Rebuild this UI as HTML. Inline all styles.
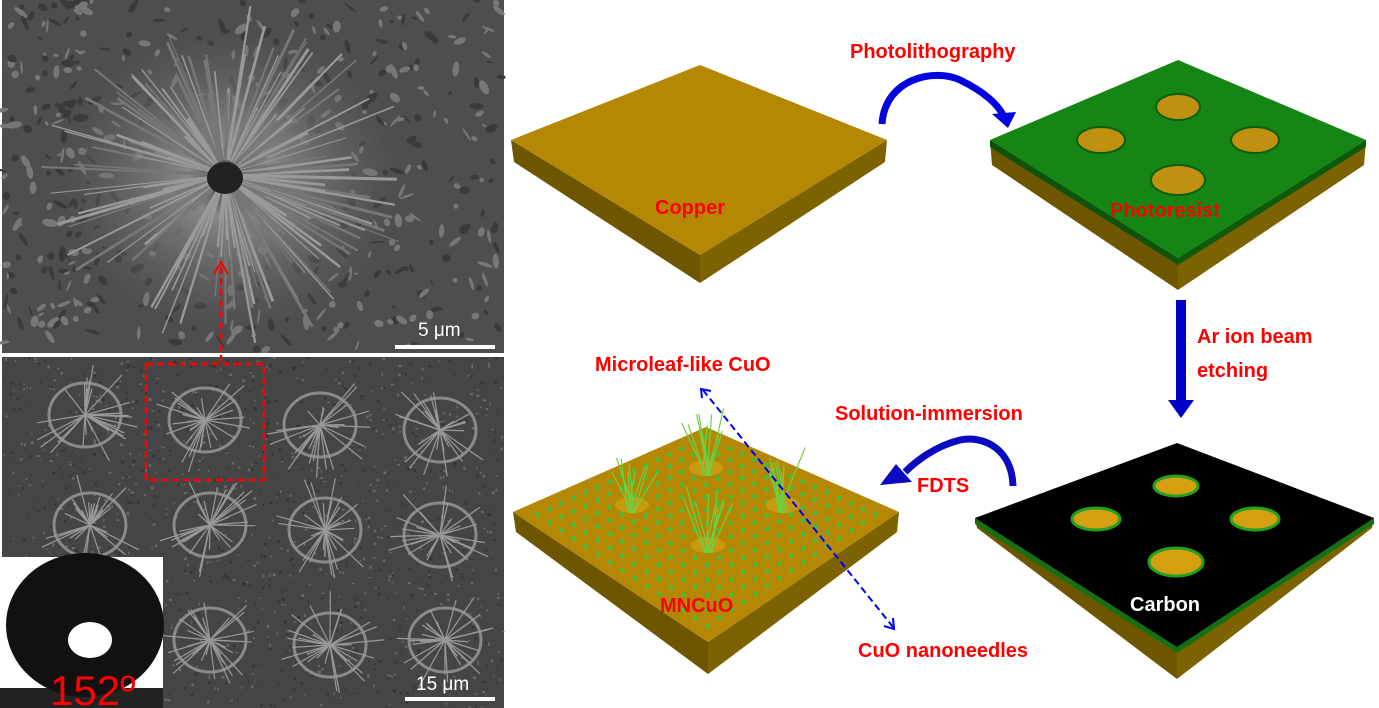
<!DOCTYPE html>
<html><head><meta charset="utf-8"><style>
html,body{margin:0;padding:0;background:#fff;width:1379px;height:708px;overflow:hidden}
svg{display:block}
.t{font-family:"Liberation Sans",sans-serif;font-weight:bold;fill:#f00;font-size:20px}
</style></head><body>
<svg id="s" width="1379" height="708" viewBox="0 0 1379 708" xmlns="http://www.w3.org/2000/svg">
<defs>
<radialGradient id="fl" cx="0.5" cy="0.5" r="0.5"><stop offset="0" stop-color="#333"/><stop offset="0.25" stop-color="#888"/><stop offset="1" stop-color="#666" stop-opacity="0"/></radialGradient>
</defs>
<rect x="2" y="0" width="502" height="353" fill="#4e4e4e"/>
<g id="top"></g>
<rect x="2" y="353" width="502" height="4" fill="#fff"/>
<rect x="2" y="357" width="502" height="351" fill="#454545"/>
<g id="bot"></g>
<rect x="395" y="345" width="100" height="4" fill="#fff"/>
<text x="418" y="336" font-family="Liberation Sans,sans-serif" font-size="19" fill="#fff">5 μm</text>
<rect x="405" y="697" width="90" height="4" fill="#fff"/>
<text x="416" y="690" font-family="Liberation Sans,sans-serif" font-size="19" fill="#fff">15 μm</text>
<rect x="146" y="364" width="118" height="116" fill="none" stroke="#f00" stroke-width="2.5" stroke-dasharray="7,4"/>
<line x1="221" y1="362" x2="221" y2="266" stroke="#f00" stroke-width="2.5" stroke-dasharray="7,4"/>
<path d="M214,274 L221,262 L228,274" fill="none" stroke="#f00" stroke-width="2"/>
<rect x="0" y="557" width="163" height="151" fill="#fff"/>
<rect x="0" y="688" width="163" height="20" fill="#222"/>
<ellipse cx="85" cy="625" rx="79" ry="72" fill="#111"/>
<ellipse cx="90" cy="640" rx="22" ry="18" fill="#fff"/>
<text x="50" y="705" font-family="Liberation Sans,sans-serif" font-size="42" fill="#f00">152º</text>

<polygon points="511,140 700,255 700,283 514,162" fill="#6e5500"/>
<polygon points="700,255 887,140 885,162 700,283" fill="#7d6200"/>
<polygon points="511,140 700,65 887,140 700,255" fill="#b48804"/>
<text class="t" x="655" y="214">Copper</text>
<polygon points="990,140 1178,258 1178,290 992,165" fill="#6e5500"/>
<polygon points="1178,258 1366,140 1364,165 1178,290" fill="#7d6200"/>
<polygon points="990,140 1178,258 1178,265 990,147" fill="#0d520d"/>
<polygon points="1178,258 1366,140 1366,147 1178,265" fill="#0d5a0d"/>
<polygon points="990,140 1178,60 1366,140 1178,258" fill="#158515"/>
<g fill="#c09010" stroke="#0b5f0b" stroke-width="2">
<ellipse cx="1178" cy="107" rx="22" ry="13"/><ellipse cx="1101" cy="140" rx="24" ry="13"/><ellipse cx="1255" cy="140" rx="24" ry="13"/><ellipse cx="1178" cy="180" rx="27" ry="15"/></g>
<text class="t" x="1110" y="217">Photoresist</text>
<polygon points="975,518 1177,647 1177,679 977,528" fill="#6e5500"/>
<polygon points="1177,647 1374,518 1372,528 1177,679" fill="#7d6200"/>
<polygon points="975,518 1177,647 1177,653 975,524" fill="#137013"/>
<polygon points="1177,647 1374,518 1374,524 1177,653" fill="#137013"/>
<polygon points="975,518 1177,443 1374,518 1177,647" fill="#000"/>
<g fill="#d4a010" stroke="#22a022" stroke-width="3">
<ellipse cx="1176" cy="486" rx="22" ry="10"/><ellipse cx="1096" cy="519" rx="24" ry="11"/><ellipse cx="1255" cy="519" rx="24" ry="11"/><ellipse cx="1176" cy="562" rx="27" ry="14"/></g>
<text x="1130" y="611" font-family="Liberation Sans,sans-serif" font-weight="bold" font-size="20" fill="#fff">Carbon</text>
<polygon points="513,512 708,642 708,674 516,532" fill="#6e5500"/>
<polygon points="708,642 899,512 897,532 708,674" fill="#7d6200"/>
<polygon points="513,512 706,427 899,512 708,642" fill="#b48804"/>
<g id="dots"></g>
<text class="t" x="660" y="612">MNCuO</text>

<path d="M882,124 C885,78 935,68 960,80 C985,92 998,105 1003,115" fill="none" stroke="#0000e0" stroke-width="7"/>
<polygon points="992,114 1016,112 1008,128" fill="#0000e0"/>
<rect x="1176" y="300" width="10" height="102" fill="#0000c8"/>
<polygon points="1168,400 1194,400 1181,418" fill="#0000c8"/>
<path d="M1013,486 C1012,450 985,435 960,440 C935,446 915,462 905,472" fill="none" stroke="#0a0ac0" stroke-width="7"/>
<polygon points="896,464 912,482 880,485" fill="#0a0ac0"/>
<line x1="703" y1="390" x2="893" y2="627" stroke="#00f" stroke-width="2" stroke-dasharray="7,4"/>
<path d="M702,398 L701,389 L711,391" fill="none" stroke="#00f" stroke-width="2"/>
<path d="M884,626 L894,629 L893,618" fill="none" stroke="#00f" stroke-width="2"/>

<text class="t" x="850" y="58">Photolithography</text>
<text class="t" x="1197" y="343">Ar ion beam</text>
<text class="t" x="1197" y="377">etching</text>
<text class="t" x="835" y="420">Solution-immersion</text>
<text class="t" x="917" y="492">FDTS</text>
<text class="t" x="595" y="371">Microleaf-like CuO</text>
<text class="t" x="858" y="657">CuO nanoneedles</text>
</svg>
<script>
(function(){
var ns="http://www.w3.org/2000/svg";
function el(p,t,a){var e=document.createElementNS(ns,t);for(var k in a)e.setAttribute(k,a[k]);p.appendChild(e);return e;}
var seed=7;function r(){seed=(seed*9301+49297)%233280;return seed/233280;}
var top=document.getElementById('top'),bot=document.getElementById('bot');
for(var i=0;i<500;i++){var x=2+r()*500,y=r()*350;el(top,'ellipse',{cx:x,cy:y,rx:2+r()*6,ry:1+r()*3,fill:r()<0.5?'#777':'#3a3a3a',transform:'rotate('+(r()*180)+' '+x+' '+y+')'});}
el(top,'ellipse',{cx:230,cy:180,rx:170,ry:150,fill:'url(#fl)'});
for(var i=0;i<180;i++){var a=r()*6.283,l=40+r()*150,cx=225,cy=175;el(top,'line',{x1:cx+Math.cos(a)*15,y1:cy+Math.sin(a)*15,x2:cx+Math.cos(a)*l,y2:cy+Math.sin(a)*l*0.9,stroke:r()<0.5?'#9a9a9a':'#777','stroke-width':1+r()*2});}
el(top,'ellipse',{cx:225,cy:178,rx:18,ry:16,fill:'#222'});
for(var i=0;i<1400;i++){var x=2+r()*500,y=357+r()*350;el(bot,'rect',{x:x,y:y,width:1+r()*2,height:1+r()*2,fill:r()<0.5?'#6a6a6a':'#333'});}
var c=[[85,415],[205,420],[320,425],[440,430],[90,525],[210,525],[325,530],[440,535],[210,640],[330,645],[445,640]];
c.forEach(function(p){el(bot,'ellipse',{cx:p[0],cy:p[1],rx:36,ry:32,fill:'none',stroke:'#8a8a8a','stroke-width':3});
for(var j=0;j<30;j++){var a=r()*6.283,l=15+r()*40;el(bot,'line',{x1:p[0],y1:p[1],x2:p[0]+Math.cos(a)*l,y2:p[1]+Math.sin(a)*l,stroke:'#999','stroke-width':1.2});}});
var d=document.getElementById('dots');
var L=[513,512],A=[706,427],R=[899,512],B=[708,642];
for(var u=1;u<16;u++)for(var v=1;v<16;v++){var s=u/16,t=v/16;
var x=(1-s)*(1-t)*L[0]+s*(1-t)*A[0]+s*t*R[0]+(1-s)*t*B[0];
var y=(1-s)*(1-t)*L[1]+s*(1-t)*A[1]+s*t*R[1]+(1-s)*t*B[1];
el(d,'circle',{cx:x,cy:y,r:2.3,fill:'#3ec03e'});}
[[706,468],[632,505],[783,505],[708,545]].forEach(function(p){
el(d,'ellipse',{cx:p[0],cy:p[1],rx:17,ry:8,fill:'#c89a10'});
for(var j=0;j<10;j++){var dx=(r()-0.5)*50;el(d,'line',{x1:p[0]+(r()-0.5)*10,y1:p[1]+8,x2:p[0]+dx,y2:p[1]-30-r()*30,stroke:'#6fd040','stroke-width':1.2});}});
})();
</script>
</body></html>
